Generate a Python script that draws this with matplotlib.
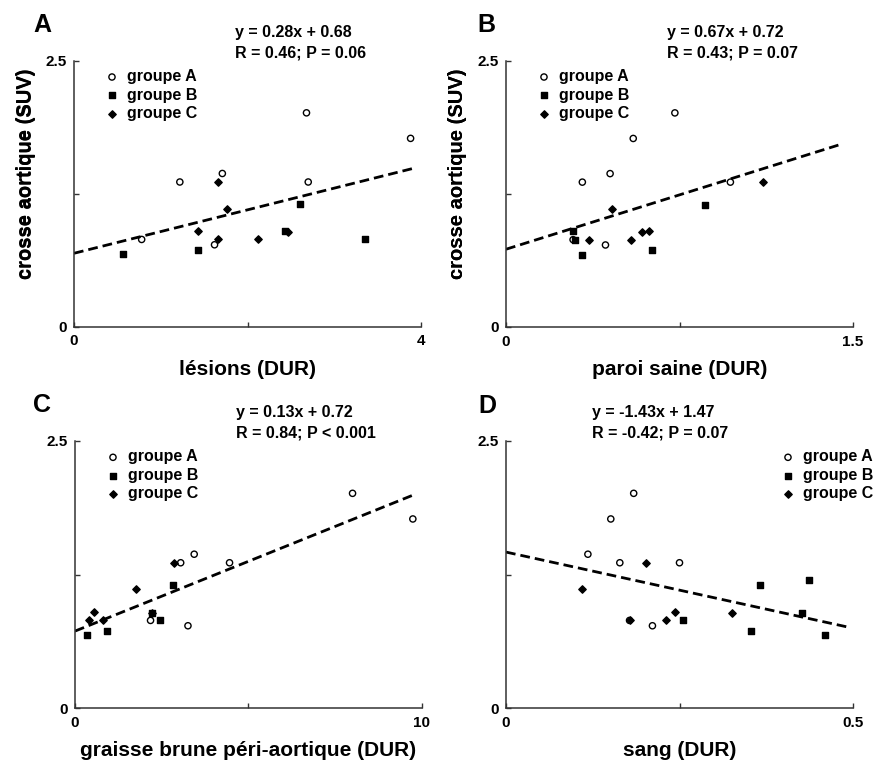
import matplotlib
matplotlib.use('Agg')
import matplotlib.pyplot as plt

plt.rcParams['font.family'] = ['Liberation Sans', 'DejaVu Sans']
plt.rcParams['font.weight'] = 'bold'

W, H = 875, 762

# ---------------- data ----------------
panel_letters = ['A', 'B', 'C', 'D']
x_labels = ['lésions (DUR)', 'paroi saine (DUR)',
            'graisse brune péri-aortique (DUR)', 'sang (DUR)']
y_label = 'crosse aortique (SUV)'
x_max = [4, 1.5, 10, 0.5]
x_tick_text = [['0', '', '4'], ['0', '', '1.5'], ['0', '', '10'], ['0', '', '0.5']]
y_max = 2.5
y_tick_text = ['0', '', '2.5']
equations = ['y = 0.28x + 0.68', 'y = 0.67x + 0.72',
             'y = 0.13x + 0.72', 'y = -1.43x + 1.47']
stats = ['R = 0.46; P = 0.06', 'R = 0.43; P = 0.07',
         'R = 0.84; P < 0.001', 'R = -0.42; P = 0.07']
group_names = ['groupe A', 'groupe B', 'groupe C']

# crosse aortique SUV (shared y values)
suv_grpA = [2.01, 1.77, 1.44, 1.36, 1.36, 0.82, 0.77]
suv_grpC = [1.36, 1.11, 0.90, 0.82, 0.82, 0.89]

# x values per panel
lesions_grpA = [2.68, 3.88, 1.71, 1.22, 2.70, 0.78, 1.62]
lesions_grpB = [0.57, 1.43, 2.43, 2.60, 3.36]
lesions_suvB = [0.68, 0.72, 0.90, 1.15, 0.82]
lesions_grpC = [1.66, 1.76, 1.43, 1.66, 2.12, 2.47]

paroi_grpA = [0.73, 0.55, 0.45, 0.33, 0.97, 0.29, 0.43]
paroi_grpB = [0.29, 0.30, 0.33, 0.63, 0.86]
paroi_suvB = [0.90, 0.82, 0.68, 0.72, 1.15]
paroi_grpC = [1.11, 0.46, 0.62, 0.36, 0.54, 0.59]

graisse_grpA = [8.01, 9.75, 3.44, 3.05, 4.46, 2.18, 3.26]
graisse_grpB = [0.34, 0.93, 2.22, 2.44, 2.83]
graisse_suvB = [0.68, 0.72, 0.89, 0.82, 1.15]
graisse_grpC = [2.85, 1.77, 0.56, 0.39, 0.82, 2.22]

sang_grpA = [0.184, 0.151, 0.118, 0.164, 0.250, 0.178, 0.211]
sang_grpB = [0.255, 0.353, 0.366, 0.426, 0.436, 0.459]
sang_suvB = [0.82, 0.72, 1.15, 0.89, 1.20, 0.68]
sang_grpC = [0.202, 0.110, 0.243, 0.179, 0.231, 0.326]

xA = [lesions_grpA, paroi_grpA, graisse_grpA, sang_grpA]
xB = [lesions_grpB, paroi_grpB, graisse_grpB, sang_grpB]
yB = [lesions_suvB, paroi_suvB, graisse_suvB, sang_suvB]
xC = [lesions_grpC, paroi_grpC, graisse_grpC, sang_grpC]

# regression line end points as drawn
line_x0 = [0, 0, 0, 0]
line_y0 = [0.69, 0.73, 0.72, 1.46]
line_x1 = [3.92, 1.44, 9.73, 0.491]
line_y1 = [1.49, 1.71, 1.99, 0.76]

# ---------------- layout (pixels) ----------------
boxes = [(74, 60.7, 421, 326.7), (506, 60.7, 853, 327),
         (75, 441, 421.5, 708), (506, 441, 853, 708)]
letter_pos = [(33, 25), (477, 25), (33, 405), (478, 406)]
eq_dx = [161, 161, 161, 86]
legend_right = [False, False, False, True]

fig = plt.figure(figsize=(W / 100, H / 100), dpi=100)

for i in range(4):
    l, t, r, b = boxes[i]
    ax = fig.add_axes([l / W, 1 - b / H, (r - l) / W, (b - t) / H])
    ax.set_xlim(0, x_max[i])
    ax.set_ylim(0, y_max)
    for s in ['top', 'right']:
        ax.spines[s].set_visible(False)
    for s in ['left', 'bottom']:
        ax.spines[s].set_linewidth(1.1)
        ax.spines[s].set_color('#333333')
    ax.set_xticks([0, x_max[i] / 2, x_max[i]])
    ax.set_xticklabels(x_tick_text[i])
    ax.set_yticks([0, y_max / 2, y_max])
    ax.set_yticklabels(y_tick_text)
    ax.tick_params(direction='in', length=3.5, width=1, colors='#333333',
                   labelcolor='black', labelsize=11)
    ax.tick_params(axis='x', pad=5.5)
    ax.tick_params(axis='y', pad=5)
    for lab in ax.get_xticklabels() + ax.get_yticklabels():
        lab.set_fontweight('bold')

    ax.plot([line_x0[i], line_x1[i]], [line_y0[i], line_y1[i]],
            color='black', lw=2.0, dashes=(3.5, 1.8), zorder=2)

    ax.scatter(xA[i], suv_grpA, marker='o', s=20, facecolors='none',
               edgecolors='black', linewidths=1.0, label=group_names[0], zorder=3)
    ax.scatter(xB[i], yB[i], marker='s', s=20, color='black',
               label=group_names[1], zorder=3)
    ax.scatter(xC[i], suv_grpC, marker='D', s=14, color='black',
               label=group_names[2], zorder=3)

    ax.set_xlabel(x_labels[i], fontsize=15, fontweight='bold')
    ax.xaxis.set_label_coords(0.5, -33 / (b - t))
    ax.set_ylabel(y_label, fontsize=14.5, fontweight='bold')
    ax.yaxis.set_label_coords(-39 / (r - l), (b - 173.5) / (b - t))

    if legend_right[i]:
        anchor = ((r - 73) / W, 1 - (t + 8.5) / H)
    else:
        anchor = ((l + 30) / W, 1 - (t + 8.5) / H)
    ax.legend(loc='upper left', bbox_to_anchor=anchor, bbox_transform=fig.transFigure,
              frameon=False, borderpad=0, borderaxespad=0, handlelength=1.0,
              handletextpad=0.45, labelspacing=0.21,
              prop={'size': 11.5, 'weight': 'bold'})

    fig.text((l + eq_dx[i]) / W, 1 - (t - 28) / H, equations[i],
             fontsize=11.5, fontweight='bold', va='center', ha='left')
    fig.text((l + eq_dx[i]) / W, 1 - (t - 7.5) / H, stats[i],
             fontsize=11.5, fontweight='bold', va='center', ha='left')
    lx, ly = letter_pos[i]
    fig.text(lx / W, 1 - ly / H, panel_letters[i], fontsize=18,
             fontweight='bold', va='center', ha='left')

fig.savefig('out.png', dpi=100)
